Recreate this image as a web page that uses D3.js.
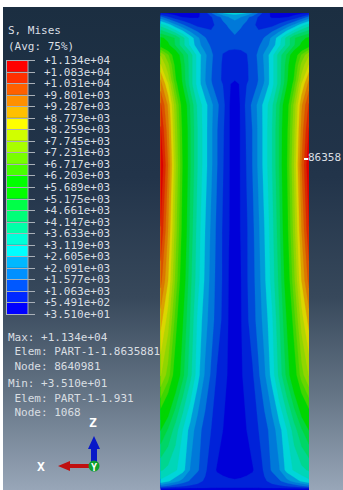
<!DOCTYPE html>
<html>
<head>
<meta charset="utf-8">
<script src="https://cdn.jsdelivr.net/npm/d3@7"></script>
<style>
  html, body { margin: 0; padding: 0; background: #fff; overflow: hidden; }
  text { font-family: "DejaVu Sans Mono", monospace; font-size: 11px; fill: #d9dee2; }
</style>
</head>
<body>
<div id="chart"></div>
<script>
// --------------------------------------
// Data
// --------------------------------------

const legendLabels = ["+1.134e+04", "+1.083e+04", "+1.031e+04", "+9.801e+03", "+9.287e+03", "+8.773e+03",
  "+8.259e+03", "+7.745e+03", "+7.231e+03", "+6.717e+03", "+6.203e+03", "+5.689e+03", "+5.175e+03",
  "+4.661e+03", "+4.147e+03", "+3.633e+03", "+3.119e+03", "+2.605e+03", "+2.091e+03", "+1.577e+03",
  "+1.063e+03", "+5.491e+02", "+3.510e+01"];

// top band first
const bandColors = ["#ff0000", "#ff3000", "#ff6000", "#ff9000", "#ffc000", "#ffff00", "#d0ff00", "#a8ff00",
  "#78ff00", "#48ff00", "#00ff00", "#00ff00", "#00ff48", "#00ff78", "#00ffa8", "#00ffd8", "#00ffff",
  "#00b8ff", "#0090ff", "#0058ff", "#0028ff", "#0000ff"];

const infoLines = [
  { text: "S, Mises", row: 30, indent: 0 },
  { text: "(Avg: 75%)", row: 46, indent: 0 },
  { text: "Max: +1.134e+04", row: 337, indent: 0 },
  { text: "Elem: PART-1-1.8635881", row: 351, indent: 1 },
  { text: "Node: 8640981", row: 366, indent: 1 },
  { text: "Min: +3.510e+01", row: 383, indent: 0 },
  { text: "Elem: PART-1-1.931", row: 398, indent: 1 },
  { text: "Node: 1068", row: 412, indent: 1 }
];

// distance from the centre line, 0 = centre, 1 = side of the part
const widthStations = [0, 0.08, 0.16, 0.24, 0.32, 0.4, 0.5, 0.6, 0.7, 0.8, 0.9, 1];

// height on the picture of every row in misesRows
const heightStations = [13, 17, 25, 38, 45, 55, 65, 80, 84, 105, 130, 165, 230, 280, 320, 375, 430, 470, 481, 486, 489];

const misesRows = [
  [2800, 2750, 2600, 2100, 1500, 800, 450, 350, 300, 350, 400, 500],
  [2300, 2100, 1700, 1400, 1000, 700, 500, 450, 500, 700, 1100, 1700],
  [1800, 1650, 1450, 1150, 950, 850, 900, 1200, 1650, 2200, 2900, 3400],
  [1500, 1350, 1200, 1150, 1250, 1620, 2200, 2900, 3800, 4600, 5000, 5300],
  [1150, 1150, 1200, 1300, 1500, 1800, 2300, 3000, 3800, 4600, 5300, 5800],
  [950, 980, 1040, 1300, 1700, 2200, 2900, 3900, 4700, 5700, 6800, 7700],
  [800, 850, 1000, 1250, 1650, 2150, 2900, 3900, 4900, 6000, 7400, 8300],
  [570, 720, 1000, 1200, 1600, 2100, 2900, 3900, 5000, 6300, 8000, 9300],
  [420, 600, 1050, 1250, 1650, 2150, 2900, 3900, 5100, 6500, 8300, 9500],
  [330, 580, 1250, 1700, 2250, 2800, 3500, 4600, 5800, 7400, 9200, 10400],
  [300, 580, 1150, 1600, 2200, 2800, 3600, 4700, 6000, 7600, 9500, 10900],
  [300, 580, 1100, 1600, 2200, 2800, 3600, 4700, 6100, 7800, 9800, 11340],
  [300, 570, 1000, 1450, 2000, 2600, 3400, 4500, 5900, 7500, 9300, 10800],
  [300, 520, 1000, 1400, 1900, 2500, 3300, 4300, 5600, 7100, 8800, 10000],
  [350, 500, 950, 1350, 1800, 2300, 3000, 4100, 5200, 6500, 8000, 9000],
  [400, 490, 700, 1000, 1500, 2000, 2800, 3800, 4800, 5800, 7000, 7800],
  [350, 430, 550, 850, 1060, 1350, 1800, 2400, 3100, 3900, 4600, 5200],
  [300, 350, 400, 500, 800, 1150, 1650, 2050, 2800, 3200, 3500, 3700],
  [600, 620, 680, 750, 850, 1000, 1200, 1500, 1900, 2300, 2700, 3000],
  [800, 800, 800, 800, 850, 900, 950, 1000, 1100, 1300, 1500, 1800],
  [350, 350, 350, 350, 350, 350, 350, 350, 350, 350, 350, 350]
];

// --------------------------------------
// Canvas
// --------------------------------------

const width = 343;
const height = 490;

const svg = d3.select("#chart")
  .append("svg")
    .attr("width", width)
    .attr("height", height)
    .style("display", "block");

const defs = svg.append("defs");

const bgGradient = defs.append("linearGradient")
    .attr("id", "bgGradient")
    .attr("x1", "0%").attr("y1", "0%")
    .attr("x2", "0%").attr("y2", "100%");

[[0, "#1b2e41"], [0.35, "#22344a"], [0.6, "#37485b"], [0.8, "#647485"], [1, "#98a6b8"]].forEach(d => {
  bgGradient.append("stop").attr("offset", d[0]).attr("stop-color", d[1]);
});

svg.append("rect")
    .attr("x", 3)
    .attr("y", 7)
    .attr("width", width - 3)
    .attr("height", height - 7)
    .attr("fill", "url(#bgGradient)");

// --------------------------------------
// Contour plot
// --------------------------------------

const modelLeft = 160.5, modelRight = 309, modelTop = 13, modelBottom = 490;
const centre = 234.8;
const halfWidth = (modelRight - modelLeft) / 2;

defs.append("clipPath").attr("id", "modelClip")
  .append("rect")
    .attr("x", modelLeft)
    .attr("y", modelTop)
    .attr("width", modelRight - modelLeft)
    .attr("height", modelBottom - modelTop);

// whole part: mirror the half rows about the centre line
const nCols = widthStations.length * 2 - 1;
const nRows = heightStations.length;
const grid = misesRows.flatMap(r => r.slice(1).reverse().concat(r));

const xStations = widthStations.slice(1).reverse().map(d => -d).concat(widthStations);
const colScale = d3.scaleLinear()
  .domain(xStations.map((d, i) => i))
  .range(xStations.map(d => centre + d * halfWidth));
const rowScale = d3.scaleLinear()
  .domain(heightStations.map((d, i) => i))
  .range(heightStations);

const toScreen = d3.geoTransform({
  point: function(x, y) { this.stream.point(colScale(x - 0.5), rowScale(y - 0.5)); }
});
const contourPath = d3.geoPath(toScreen);

const legendValues = legendLabels.map(Number);
const bandsLowToHigh = legendValues.slice(1).reverse();
const colorsLowToHigh = bandColors.slice().reverse();

// the lit part is a bit darker than the legend swatches
const shade = c => {
  const k = d3.rgb(c);
  return d3.rgb(k.r * 0.86, k.g * 0.84, k.b * 0.85).formatHex();
};

const contours = d3.contours()
  .size([nCols, nRows])
  .thresholds(bandsLowToHigh)(grid);

svg.append("g")
    .attr("clip-path", "url(#modelClip)")
  .selectAll("path")
  .data(contours)
  .join("path")
    .attr("d", contourPath)
    .attr("fill", (d, i) => shade(colorsLowToHigh[i]))
    .attr("stroke", (d, i) => shade(colorsLowToHigh[i]))
    .attr("stroke-width", 0.3);

// --------------------------------------
// Legend
// --------------------------------------

const legendY = d3.scalePoint()
  .domain(legendLabels)
  .range([60, 314]);

const legend = svg.append("g");

legend.selectAll("rect")
  .data(bandColors)
  .join("rect")
    .attr("x", 7)
    .attr("y", (d, i) => legendY(legendLabels[i]))
    .attr("width", 21)
    .attr("height", legendY.step())
    .attr("fill", d => d);

legend.selectAll("line")
  .data(legendLabels)
  .join("line")
    .attr("x1", 6)
    .attr("x2", 35)
    .attr("y1", d => Math.round(legendY(d)) + 0.5)
    .attr("y2", d => Math.round(legendY(d)) + 0.5)
    .attr("stroke", "#a9b0b8")
    .attr("stroke-width", 1);

legend.append("rect")
    .attr("x", 6.5)
    .attr("y", 60.5)
    .attr("width", 21.5)
    .attr("height", 254)
    .attr("fill", "none")
    .attr("stroke", "#a9b0b8");

legend.selectAll("text")
  .data(legendLabels)
  .join("text")
    .attr("x", 44)
    .attr("y", d => legendY(d) + 4)
    .text(d => d);

// --------------------------------------
// Text block
// --------------------------------------

svg.append("g").selectAll("text")
  .data(infoLines)
  .join("text")
    .attr("x", d => d.indent ? 14.5 : 8)
    .attr("y", d => d.row + 4)
    .text(d => d.text);

// max marker and its node label, the reference shows the first digits only
svg.append("rect")
    .attr("x", 304)
    .attr("y", 158)
    .attr("width", 4)
    .attr("height", 2)
    .attr("fill", "#ffffff");

svg.append("text")
    .attr("x", 308)
    .attr("y", 161)
    .text("86358");

// --------------------------------------
// Triad
// --------------------------------------

const triad = svg.append("g");

triad.append("path")
    .attr("d", "M91,466V449H88L94,436L100,449H97V466Z")
    .attr("fill", "#0818c8");

triad.append("path")
    .attr("d", "M94,464H70V461L58,466L70,471V468H94Z")
    .attr("fill", "#c01010");

triad.append("circle")
    .attr("cx", 94)
    .attr("cy", 466)
    .attr("r", 5.5)
    .attr("fill", "#10a030");

triad.selectAll("text")
  .data([["Z", 93, 422, 13], ["X", 41, 466, 13], ["Y", 94, 466, 10]])
  .join("text")
    .attr("x", d => d[1])
    .attr("y", d => d[2] + 4.5)
    .attr("text-anchor", "middle")
    .style("font-weight", "bold")
    .style("font-size", d => d[3] + "px")
    .style("fill", "#ffffff")
    .text(d => d[0]);
</script>
</body>
</html>
